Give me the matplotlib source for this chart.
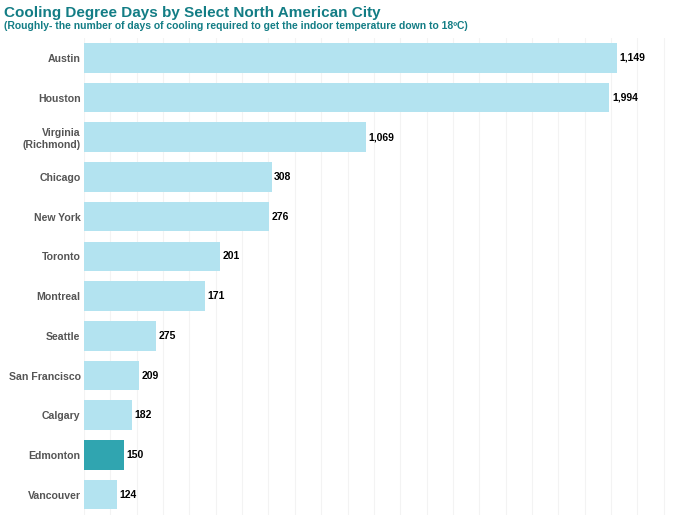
import numpy as np
import matplotlib.pyplot as plt

plt.rcParams['font.family'] = ['Liberation Sans', 'DejaVu Sans']

cities = ['Austin', 'Houston', 'Virginia\n(Richmond)', 'Chicago', 'New York', 'Toronto',
          'Montreal', 'Seattle', 'San Francisco', 'Calgary', 'Edmonton', 'Vancouver']
# bar lengths as drawn
cdd = [2023, 1994, 1069, 712, 701, 516, 458, 275, 209, 182, 150, 124]
# labels as printed on the chart
labels = ['1,149', '1,994', '1,069', '308', '276', '201', '171', '275', '209', '182', '150', '124']
highlight = 'Edmonton'

light = '#b3e3f0'
dark = '#30a5b0'
teal = '#137d85'

fig = plt.figure(figsize=(6.74, 5.17), dpi=100)
ax = fig.add_axes([84/674, 1 - 514.5/517, 1 - 84/674, (514.5 - 38)/517])

y = np.arange(len(cities))
colors = [dark if c == highlight else light for c in cities]
ax.barh(y, cdd, height=0.745, color=colors, zorder=2)

for yi, v, lab in zip(y, cdd, labels):
    ax.text(v + 10, yi, lab, va='center', ha='left', fontsize=7.5, fontweight='bold',
            color='black')

ax.set_xlim(0, 2239)
ax.set_ylim(len(cities) - 0.5, -0.5)
ax.set_xticks(np.arange(0, 2240, 100))
ax.xaxis.grid(True, color='#f3f3f3', linewidth=0.8, zorder=0)
ax.set_xticklabels([])
ax.set_yticks(y)
ax.set_yticklabels(cities, fontsize=7.6, fontweight='bold', color='#555555')
ax.tick_params(axis='both', length=0)
ax.tick_params(axis='y', pad=2.5)
for s in ax.spines.values():
    s.set_visible(False)

fig.text(4/674, 1 - 17/517, 'Cooling Degree Days by Select North American City',
         fontsize=11, fontweight='bold', color=teal, ha='left', va='baseline')
fig.text(4/674, 1 - 29.3/517,
         '(Roughly- the number of days of cooling required to get the indoor temperature down to 18\u00baC)',
         fontsize=7.5, fontweight='bold', color=teal, ha='left', va='baseline')

fig.savefig('out.png', dpi=100)
